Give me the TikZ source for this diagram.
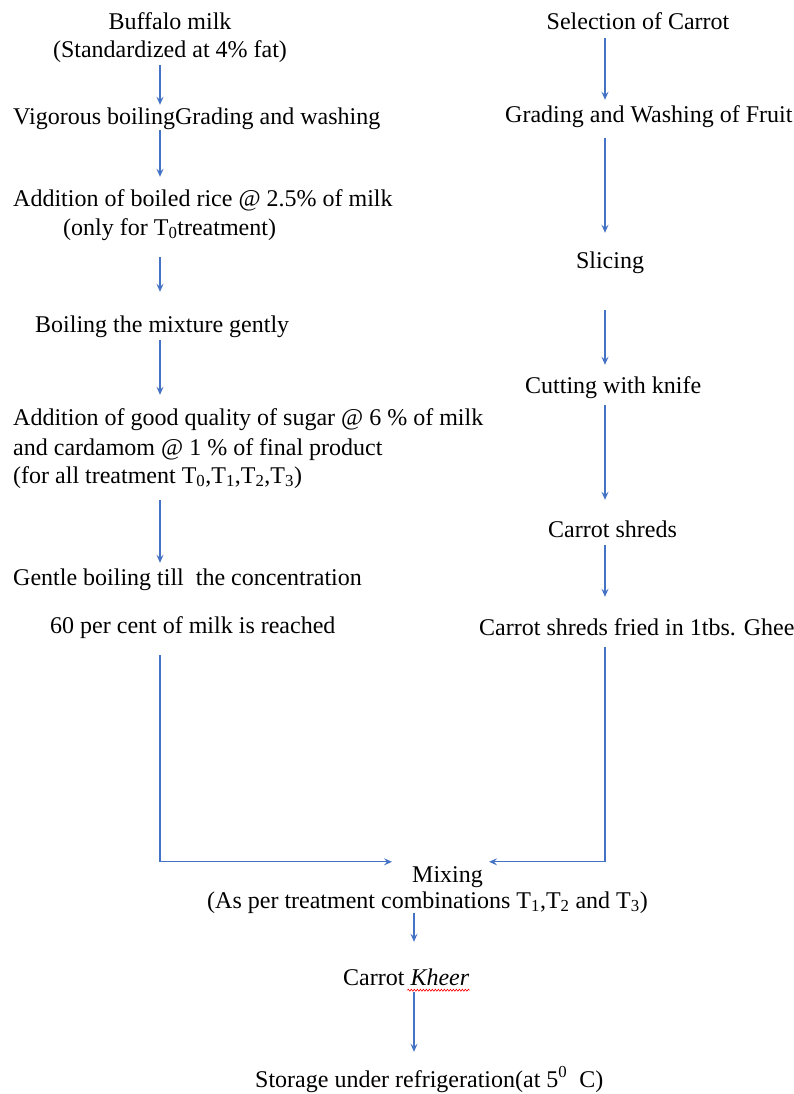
\documentclass[tikz,border=0pt]{standalone}
\usepackage{fontspec}
\setmainfont{Liberation Serif}
\usepackage{tikz}
\usetikzlibrary{arrows.meta,decorations.pathmorphing}
\definecolor{flowblue}{RGB}{68,114,196}

\begin{document}
\begin{tikzpicture}
      [x=1pt, y=-1pt,
       stage/.style={
           inner sep=0pt,
           text height=16pt,
           text depth=5pt,
           font=\fontsize{24}{28}\selectfont
         },
       flow/.style={
           draw=flowblue, line width=1.3pt,
           -{Stealth[length=8pt,width=7pt,inset=3pt]}
         },
       ]
    \useasboundingbox (0,0) rectangle (793,1094);
    \coordinate (lx) at (160,0);
    \coordinate (rx) at (605,0);
    \coordinate (bx) at (414,0);

    % milk side
    \node [stage, anchor=base] (milk) at (170,30) {Buffalo milk};
    \node [stage, anchor=base] (milkstd) at (170,58) {(Standardized at 4\% fat)};
    \node [stage, anchor=base west] (vig) at (13,125) {Vigorous boilingGrading and washing};
    \node [stage, anchor=base west] (rice) at (13,207) {Addition of boiled rice @ 2.5\% of milk};
    \node [stage, anchor=base west] (ricenote) at (63,235) {(only for T\textsubscript{0}treatment)};
    \node [stage, anchor=base west] (boil) at (35,332) {Boiling the mixture gently};
    \node [stage, anchor=base west] (sugar) at (13,425) {Addition of good quality of sugar @ 6 \% of milk};
    \node [stage, anchor=base west] (sugarb) at (13,455) {and cardamom @ 1 \% of final product};
    \node [stage, anchor=base west] (sugarc) at (13,483)
      {(for all treatment T\textsubscript{0},T\textsubscript{1},T\textsubscript{2},T\textsubscript{3})};
    \node [stage, anchor=base west] (gentle) at (13,585) {Gentle boiling till\ \ the concentration};
    \node [stage, anchor=base west] (conc) at (50,633) {60 per cent of milk is reached};

    % carrot side
    \node [stage, anchor=base] (sel) at (638,30) {Selection of Carrot};
    \node [stage, anchor=base west] (grade) at (505,123) {Grading and Washing of Fruit};
    \node [stage, anchor=base] (slice) at (610,268) {Slicing};
    \node [stage, anchor=base west] (cut) at (525,393) {Cutting with knife};
    \node [stage, anchor=base west] (shred) at (548,537) {Carrot shreds};
    \node [stage, anchor=base west] (fried) at (479,635) {Carrot shreds fried in 1tbs. Ghee};

    % joint part
    \node [stage, anchor=base west] (mixing) at (412,882) {Mixing};
    \node [stage, anchor=base west] (mixnote) at (207,908)
      {(As per treatment combinations T\textsubscript{1},T\textsubscript{2} and T\textsubscript{3})};
    \node [stage, anchor=base west] (kheer) at (343,985) {Carrot \textit{Kheer}};
    \node [stage, anchor=base west] (store) at (255,1087)
      {Storage under refrigeration(at 5\textsuperscript{0}\ \ C)};

    \draw [flow, shorten <=2pt, shorten >=4pt] (milkstd.south -| lx) -- (vig.north -| lx);
    \draw [flow, shorten >=14pt] (vig.south -| lx) -- (rice.north -| lx);
    \draw [flow, shorten <=17pt, shorten >=24pt] (ricenote.south -| lx) -- (boil.north -| lx);
    \draw [flow, shorten <=3pt, shorten >=14pt] (boil.south -| lx) -- (sugar.north -| lx);
    \draw [flow, shorten <=12pt, shorten >=6pt] (sugarc.south -| lx) -- (gentle.north -| lx);
    \draw [flow, shorten <=17pt] (conc.south -| lx) |- ([xshift=-20pt,yshift=4pt]mixing.north west);

    \draw [flow, shorten <=3pt, shorten >=7pt] (sel.south -| rx) -- (grade.north -| rx);
    \draw [flow, shorten <=10pt, shorten >=19pt] (grade.south -| rx) -- (slice.north -| rx);
    \draw [flow, shorten <=37pt, shorten >=12pt] (slice.south -| rx) -- (cut.north -| rx);
    \draw [flow, shorten <=7pt, shorten >=21pt] (cut.south -| rx) -- (shred.north -| rx);
    \draw [flow, shorten <=3pt, shorten >=22pt] (shred.south -| rx) -- (fried.north -| rx);
    \draw [flow, shorten <=7pt] (fried.south -| rx) |- ([xshift=6pt,yshift=4pt]mixing.north east);

    \draw [flow, shorten >=27pt] (mixnote.south -| bx) -- (kheer.north -| bx);
    \draw [flow, shorten <=2pt, shorten >=19pt] (kheer.south -| bx) -- (store.north -| bx);

    % spell-check mark under Kheer
    \draw [red, line width=0.6pt, decorate, decoration={snake, amplitude=1pt, segment length=3pt}]
      ([xshift=-62pt]kheer.south east) -- (kheer.south east);

  \end{tikzpicture}
\end{document}
